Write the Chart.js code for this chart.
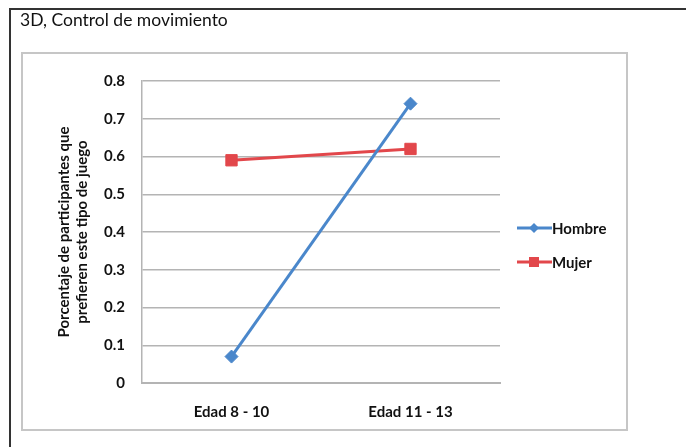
<!DOCTYPE html>
<html><head><meta charset="utf-8">
<script src="https://cdn.jsdelivr.net/npm/chart.js@4"></script>
<style>html,body{margin:0;padding:0;background:#fff}#wrap{width:686px;height:447px;position:relative}</style>
</head><body><div id="wrap"><canvas id="c" width="686" height="447"></canvas></div>
<script>
const chartTitle = '3D, Control de movimiento';
const categories = ['Edad 8 - 10', 'Edad 11 - 13'];
const hombre = [0.07, 0.74];
const mujer = [0.59, 0.62];
const seriesNames = ['Hombre', 'Mujer'];
const yTitle = ['Porcentaje de participantes que', 'prefieren este tipo de juego'];

const FONT = 'Lato, "Open Sans", sans-serif';
const BLUE = '#4A87CB';
const RED = '#E2474B';

const decor = {
  id: 'decor',
  beforeDraw(chart) {
    const ctx = chart.ctx;
    ctx.save();
    ctx.fillStyle = '#fff';
    ctx.fillRect(0, 0, chart.width, chart.height);
    ctx.strokeStyle = '#333';
    ctx.lineWidth = 2;
    ctx.beginPath();
    ctx.moveTo(10, 447); ctx.lineTo(10, 9); ctx.lineTo(686, 9);
    ctx.stroke();
    ctx.strokeStyle = '#c6c6c6';
    ctx.lineWidth = 2;
    ctx.strokeRect(22, 53, 605, 377);
    ctx.fillStyle = '#111';
    ctx.font = '17.5px ' + FONT;
    ctx.textBaseline = 'middle';
    ctx.textAlign = 'left';
    ctx.fillText(chartTitle, 20, 20);
    ctx.restore();
  },
  afterDraw(chart) {
    const ctx = chart.ctx;
    ctx.save();
    const items = [[seriesNames[0], BLUE, 'diamond', 228], [seriesNames[1], RED, 'square', 262]];
    items.forEach(([name, col, shape, y]) => {
      ctx.strokeStyle = col; ctx.lineWidth = 3;
      ctx.beginPath(); ctx.moveTo(517, y); ctx.lineTo(552, y); ctx.stroke();
      ctx.fillStyle = col;
      if (shape === 'diamond') {
        ctx.beginPath(); ctx.moveTo(534, y - 5); ctx.lineTo(539, y); ctx.lineTo(534, y + 5); ctx.lineTo(529, y); ctx.closePath(); ctx.fill();
      } else {
        ctx.fillRect(529, y - 5, 10, 10);
      }
      ctx.fillStyle = '#111';
      ctx.font = 'bold 15px ' + FONT;
      ctx.textBaseline = 'middle'; ctx.textAlign = 'left';
      ctx.fillText(name, 552, y + 1);
    });
    ctx.restore();
  }
};

new Chart(document.getElementById('c'), {
  type: 'line',
  data: {
    labels: categories,
    datasets: [
      { label: seriesNames[0], data: hombre, borderColor: BLUE, backgroundColor: BLUE, borderWidth: 3,
        pointStyle: 'rectRot', pointRadius: 6.5, pointBorderWidth: 1, pointHoverRadius: 6.5, tension: 0 },
      { label: seriesNames[1], data: mujer, borderColor: RED, backgroundColor: RED, borderWidth: 3,
        pointStyle: 'rect', pointRadius: 8, pointBorderWidth: 1, pointHoverRadius: 8, tension: 0 }
    ]
  },
  options: {
    responsive: false,
    animation: false,
    devicePixelRatio: 1,
    layout: { padding: { left: 56, right: 186, top: 81, bottom: 17 } },
    plugins: { legend: { display: false }, tooltip: { enabled: false } },
    scales: {
      x: {
        offset: true,
        grid: { display: false, drawTicks: false },
        border: { display: true, color: '#b4b4b4', width: 2 },
        ticks: { color: '#111', font: { family: FONT, size: 15, weight: 'bold' }, padding: 20 },
        afterFit(s) { s.height = 47; }
      },
      y: {
        min: 0, max: 0.8,
        grid: { color: '#b4b4b4', lineWidth: 1.5, drawTicks: false },
        border: { display: true, color: '#b4b4b4', width: 1.5 },
        ticks: { stepSize: 0.1, color: '#111', font: { family: FONT, size: 15, weight: 'bold' }, padding: 17,
          callback: v => Math.round(v * 10) === 0 ? '0' : (Math.round(v * 10) / 10).toString() },
        title: { display: true, text: yTitle, color: '#111', font: { family: FONT, size: 15, weight: 'bold', lineHeight: 1.15 }, padding: { top: 0, bottom: 6 } },
        afterFit(s) { s.width = 86; }
      }
    }
  },
  plugins: [decor]
});
</script>
</body></html>
